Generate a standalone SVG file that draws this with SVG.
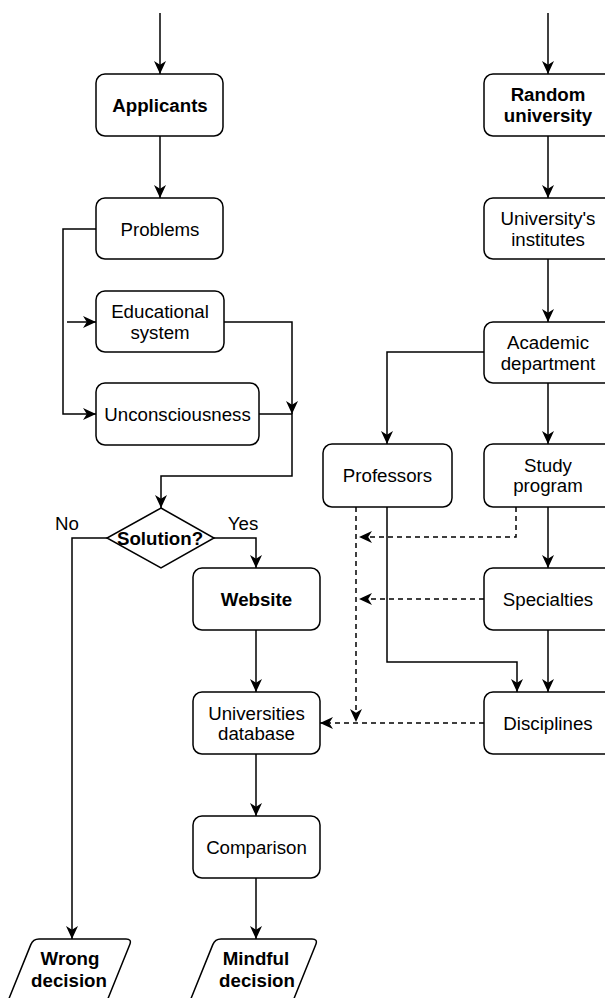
<svg xmlns="http://www.w3.org/2000/svg" width="605" height="998" viewBox="0 0 605 998">
<style>
.box{fill:#fff;stroke:#000;stroke-width:1.5}
.t{font-family:"Liberation Sans",Arial,sans-serif;font-size:18.7px;fill:#000;text-anchor:middle}
.b{font-weight:bold}
.c{fill:none;stroke:#000;stroke-width:1.5}
.d{stroke-dasharray:5 4}
</style>
<defs>
<marker id="a" markerUnits="userSpaceOnUse" markerWidth="14" markerHeight="13" refX="13" refY="6" orient="auto">
<path d="M0,0 L13,6 L0,12 L3.8,6 Z" fill="#000"/>
</marker>
</defs>
<rect width="605" height="998" fill="#fff"/>
<g id="connectors">
<path class="c" d="M160,13 V74" marker-end="url(#a)"/>
<path class="c" d="M160,136 V198" marker-end="url(#a)"/>
<path class="c" d="M548,13 V74" marker-end="url(#a)"/>
<path class="c" d="M548,136 V198" marker-end="url(#a)"/>
<path class="c" d="M548,259 V322" marker-end="url(#a)"/>
<path class="c" d="M96,229 H63 V414 H96" marker-end="url(#a)"/>
<path class="c" d="M67,322 H96" marker-end="url(#a)"/>
<path class="c" d="M224,322 H292 V414" marker-end="url(#a)"/>
<path class="c" d="M259,414 H292 V476 H161 V508" marker-end="url(#a)"/>
<path class="c" d="M107,538 H72 V939" marker-end="url(#a)"/>
<path class="c" d="M213,538 H256 V568" marker-end="url(#a)"/>
<path class="c" d="M256,630 V692" marker-end="url(#a)"/>
<path class="c" d="M256,754 V816" marker-end="url(#a)"/>
<path class="c" d="M256,878 V939" marker-end="url(#a)"/>
<path class="c" d="M484,352 H387 V444" marker-end="url(#a)"/>
<path class="c" d="M548,383 V444" marker-end="url(#a)"/>
<path class="c" d="M548,507 V568" marker-end="url(#a)"/>
<path class="c" d="M548,630 V692" marker-end="url(#a)"/>
<path class="c" d="M387,507 V662 H517 V692" marker-end="url(#a)"/>
<path class="c d" d="M516,507 V537 H359" marker-end="url(#a)"/>
<path class="c d" d="M484,599 H359" marker-end="url(#a)"/>
<path class="c d" d="M356,507 V722" marker-end="url(#a)"/>
<path class="c d" d="M484,723 H320" marker-end="url(#a)"/>
</g>
<g id="applicants"><rect class="box" x="96" y="74" width="127" height="62" rx="9"/><text class="t b" x="160" y="112">Applicants</text></g>
<g id="problems"><rect class="box" x="96" y="198" width="127" height="61" rx="9"/><text class="t" x="160" y="236">Problems</text></g>
<g id="educational"><rect class="box" x="96" y="291" width="128" height="61" rx="9"/><text class="t" x="160" y="318">Educational</text><text class="t" x="160" y="338.5">system</text></g>
<g id="unconsciousness"><rect class="box" x="96" y="383" width="163" height="62" rx="9"/><text class="t" x="177.5" y="421">Unconsciousness</text></g>
<g id="solution"><path class="box" d="M161,508 L214,538 L161,568 L107,538 Z"/><text class="t b" x="160" y="544.5">Solution?</text></g>
<g id="label-no"><text class="t" x="67" y="530">No</text></g>
<g id="label-yes"><text class="t" x="243" y="530">Yes</text></g>
<g id="website"><rect class="box" x="193" y="568" width="127" height="62" rx="9"/><text class="t b" x="256.5" y="606">Website</text></g>
<g id="database"><rect class="box" x="193" y="692" width="127" height="62" rx="9"/><text class="t" x="256.5" y="719.5">Universities</text><text class="t" x="256.5" y="740">database</text></g>
<g id="comparison"><rect class="box" x="193" y="816" width="127" height="62" rx="9"/><text class="t" x="256.5" y="854">Comparison</text></g>
<g id="wrong"><path class="box" d="M39,939 H126 Q132,939 129.8,944.6 L107,1001 H8 L30.8,944.6 Q33,939 39,939 Z"/><text class="t b" x="70" y="965">Wrong</text><text class="t b" x="69" y="986.5">decision</text></g>
<g id="mindful"><path class="box" d="M221,939 H312 Q318,939 315.8,944.6 L293,1001 H190 L212.8,944.6 Q215,939 221,939 Z"/><text class="t b" x="256" y="965">Mindful</text><text class="t b" x="257" y="986.5">decision</text></g>
<g id="random"><rect class="box" x="484" y="74" width="130" height="62" rx="9"/><text class="t b" x="548" y="101">Random</text><text class="t b" x="548" y="121.5">university</text></g>
<g id="institutes"><rect class="box" x="484" y="198" width="130" height="61" rx="9"/><text class="t" x="548" y="225">University's</text><text class="t" x="548" y="245.5">institutes</text></g>
<g id="department"><rect class="box" x="484" y="322" width="130" height="61" rx="9"/><text class="t" x="548" y="349">Academic</text><text class="t" x="548" y="369.5">department</text></g>
<g id="professors"><rect class="box" x="323" y="444" width="129" height="63" rx="9"/><text class="t" x="387.5" y="482">Professors</text></g>
<g id="study"><rect class="box" x="484" y="444" width="130" height="63" rx="9"/><text class="t" x="548" y="471.5">Study</text><text class="t" x="548" y="492">program</text></g>
<g id="specialties"><rect class="box" x="484" y="568" width="130" height="62" rx="9"/><text class="t" x="548" y="606">Specialties</text></g>
<g id="disciplines"><rect class="box" x="484" y="692" width="130" height="62" rx="9"/><text class="t" x="548" y="730">Disciplines</text></g>
</svg>
